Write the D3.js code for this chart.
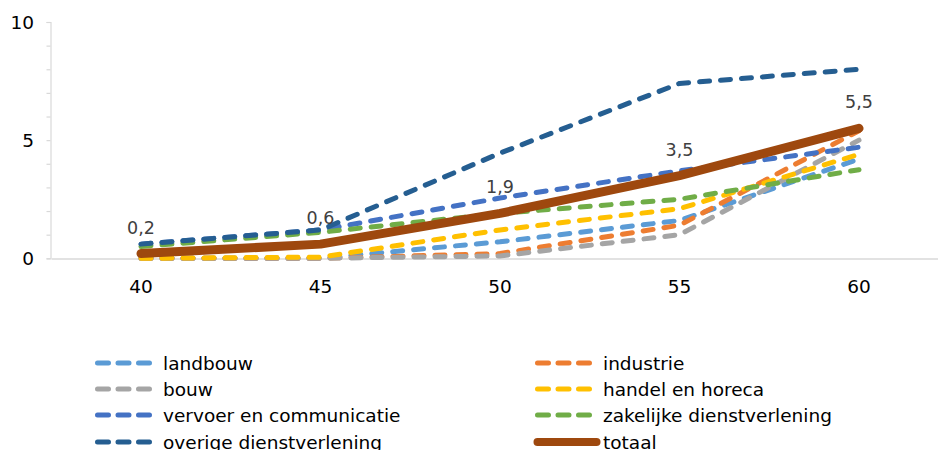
<!DOCTYPE html>
<html>
<head>
<meta charset="utf-8">
<script src="https://cdn.jsdelivr.net/npm/d3@7"></script>
<style>
  html, body { margin: 0; padding: 0; background: #fff; }
  svg { display: block; font-family: "DejaVu Sans", Verdana, sans-serif; }
</style>
</head>
<body>
<svg id="chart" width="938" height="450"></svg>
<script>
const categories = ["40", "45", "50", "55", "60"];
const yTicks = [0, 5, 10];

const seriesNames = [
  "landbouw", "industrie", "bouw", "handel en horeca",
  "vervoer en communicatie", "zakelijke dienstverlening",
  "overige dienstverlening", "totaal"
];
const landbouw = [0.0, 0.0, 0.7, 1.6, 4.2];
const industrie = [0.0, 0.0, 0.2, 1.4, 5.4];
const bouw = [0.0, 0.0, 0.1, 1.0, 5.0];
const handelHoreca = [0.0, 0.05, 1.2, 2.1, 4.4];
const vervoerCommunicatie = [0.6, 1.2, 2.55, 3.7, 4.7];
const zakelijkeDienst = [0.5, 1.1, 1.9, 2.5, 3.75];
const overigeDienst = [0.6, 1.2, 4.45, 7.4, 8.0];
const totaal = [0.2, 0.6, 1.9, 3.5, 5.5];

const seriesColors = ["#5B9BD5", "#ED7D31", "#A5A5A5", "#FFC000", "#4472C4", "#70AD47", "#255E91", "#9E480E"];
const seriesValues = [landbouw, industrie, bouw, handelHoreca, vervoerCommunicatie, zakelijkeDienst, overigeDienst, totaal];

const series = seriesNames.map((name, i) => ({
  name, color: seriesColors[i], values: seriesValues[i], solid: name === "totaal"
}));

const svg = d3.select("#chart");

const x = d3.scaleBand().domain(categories).range([51.25, 948.75]).padding(0);
const xc = c => x(c) + x.bandwidth() / 2;
const y = d3.scaleLinear().domain([0, 10]).range([258.3, 22]);

// Y axis
const yAxis = d3.axisLeft(y).tickValues(d3.range(0, 11, 1)).tickSize(4).tickFormat("");
const gy = svg.append("g").attr("transform", "translate(50.5,0)").call(yAxis);
gy.select(".domain").attr("stroke", "#d9d9d9").attr("stroke-width", 1.2);
gy.selectAll(".tick line").attr("stroke", "#d9d9d9").attr("stroke-width", 1.2);

svg.append("g").selectAll("text").data(yTicks).join("text")
  .attr("x", 34).attr("y", d => y(d))
  .attr("text-anchor", "end").attr("dominant-baseline", "central")
  .attr("font-size", 18.5).attr("fill", "#000")
  .text(d => d);

// X axis
const xAxis = d3.axisBottom(x).tickSize(0).tickFormat("");
const gx = svg.append("g").attr("transform", `translate(0,${y(0) + 0.3})`).call(xAxis);
gx.select(".domain").attr("stroke", "#d9d9d9").attr("stroke-width", 1.5);

svg.append("g").selectAll("text").data(categories).join("text")
  .attr("x", d => xc(d)).attr("y", 293)
  .attr("text-anchor", "middle")
  .attr("font-size", 18.5).attr("fill", "#000")
  .text(d => d);

// Lines
const line = d3.line().x((d, i) => xc(categories[i])).y(d => y(d));

svg.append("g").selectAll("path").data(series).join("path")
  .attr("d", d => line(d.values))
  .attr("fill", "none")
  .attr("stroke", d => d.color)
  .attr("stroke-width", d => d.solid ? 9 : 5)
  .attr("stroke-linecap", "round")
  .attr("stroke-linejoin", "round")
  .attr("stroke-dasharray", d => d.solid ? null : "10 11");

// Data labels for totaal
const fmt = v => d3.format(".1f")(v).replace(".", ",");
svg.append("g").selectAll("text").data(totaal).join("text")
  .attr("x", (d, i) => xc(categories[i]))
  .attr("y", d => y(d) - 20)
  .attr("text-anchor", "middle")
  .attr("font-size", 17.5).attr("fill", "#404040")
  .text(d => fmt(d));

// Legend
const legendPos = [
  [95, 363], [535, 363],
  [95, 389], [535, 389],
  [95, 415], [535, 415],
  [95, 442], [535, 442]
];
const lg = svg.append("g").selectAll("g").data(series).join("g")
  .attr("transform", (d, i) => `translate(${legendPos[i][0]},${legendPos[i][1]})`);
lg.append("line")
  .attr("x1", 2.5).attr("x2", d => d.solid ? 61.5 : 56)
  .attr("y1", 0).attr("y2", 0)
  .attr("stroke", d => d.color)
  .attr("stroke-width", d => d.solid ? 8 : 5)
  .attr("stroke-linecap", "round")
  .attr("stroke-dasharray", d => d.solid ? null : "11 9.5");
lg.append("text")
  .attr("x", 68).attr("y", 0)
  .attr("dominant-baseline", "central")
  .attr("font-size", 18.5).attr("fill", "#000")
  .text(d => d.name);
</script>
</body>
</html>
